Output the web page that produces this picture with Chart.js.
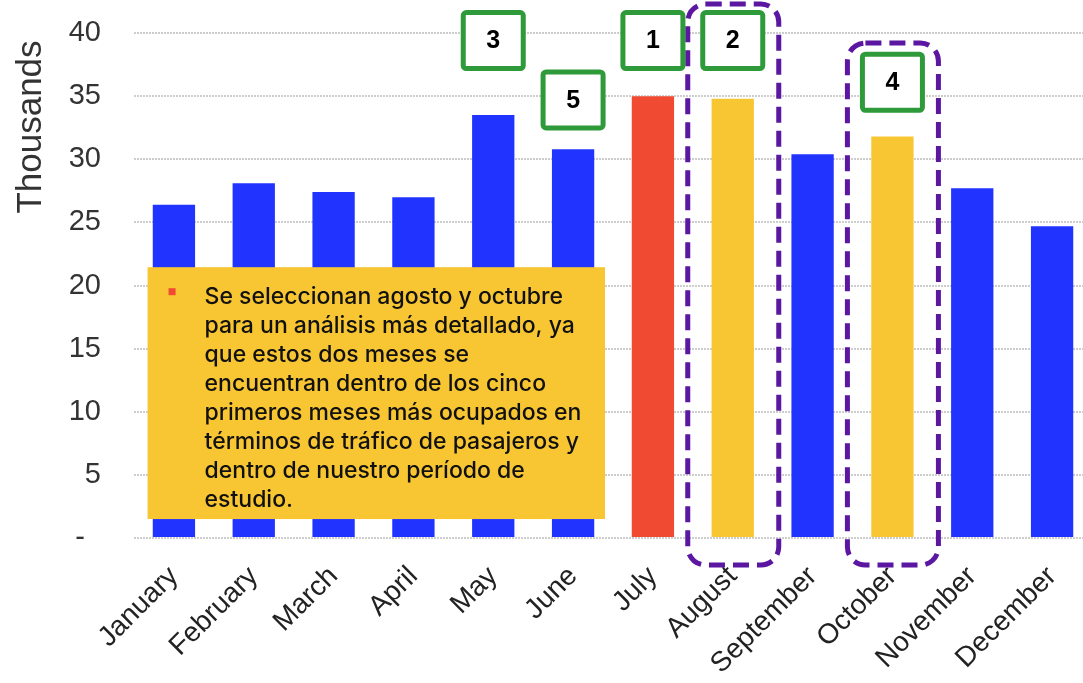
<!DOCTYPE html>
<html lang="es">
<head>
  <meta charset="UTF-8">
  <title>Pasajeros por mes</title>
  <script src="https://cdn.jsdelivr.net/npm/chart.js"></script>
  <style>
    html, body {
      margin: 0;
      padding: 0;
      background: #fff;
      overflow: hidden;
    }
    #wrap {
      width: 1092px;
      height: 683px;
    }
  </style>
</head>
<body>
  <div id="wrap">
    <canvas id="traffic" width="1092" height="683"></canvas>
  </div>

  <script>
    // Monthly passenger traffic (thousands)
    const months = ['January', 'February', 'March', 'April', 'May', 'June',
      'July', 'August', 'September', 'October', 'November', 'December'];
    const passengers = [26.4, 28.1, 27.4, 27.0, 33.5, 30.8, 35.0, 34.8, 30.4, 31.8, 27.7, 24.7];
    const yTickValues = [0, 5, 10, 15, 20, 25, 30, 35, 40];
    const yTickLabels = ['-  ', '5', '10', '15', '20', '25', '30', '35', '40'];

    // ranking of the busiest months, and the two chosen for study
    const topMonths = ['July', 'August', 'May', 'October', 'June'];
    const studyMonths = ['August', 'October'];

    const noteLines = [
      'Se seleccionan agosto y octubre',
      'para un análisis más detallado, ya',
      'que estos dos meses se',
      'encuentran dentro de los cinco',
      'primeros meses más ocupados en',
      'términos de tráfico de pasajeros y',
      'dentro de nuestro período de',
      'estudio.'
    ];

    const BLUE = '#2134FF';
    const RED = '#F14A33';
    const YELLOW = '#F8C632';
    const GREEN = '#2E9A39';
    const PURPLE = '#5B17A1';

    const barColors = months.map(m => {
      if (m === topMonths[0]) return RED;
      if (studyMonths.includes(m)) return YELLOW;
      return BLUE;
    });

    // where the rank badges sit (value units on the y axis)
    const badgeY = { July: 39.4, August: 39.4, May: 39.4, October: 36.1, June: 34.7 };

    function roundRect(ctx, x, y, w, h, r) {
      ctx.beginPath();
      ctx.moveTo(x + r, y);
      ctx.lineTo(x + w - r, y);
      ctx.arcTo(x + w, y, x + w, y + r, r);
      ctx.lineTo(x + w, y + h - r);
      ctx.arcTo(x + w, y + h, x + w - r, y + h, r);
      ctx.lineTo(x + r, y + h);
      ctx.arcTo(x, y + h, x, y + h - r, r);
      ctx.lineTo(x, y + r);
      ctx.arcTo(x, y, x + r, y, r);
      ctx.closePath();
    }

    const annotations = {
      id: 'annotations',
      afterDatasetsDraw(chart) {
        const { ctx } = chart;
        const x = chart.scales.x;
        const y = chart.scales.y;
        const step = x.getPixelForValue(1) - x.getPixelForValue(0);

        ctx.save();

        // yellow note over the first half of the year
        const nLeft = x.getPixelForValue(0) - step * 0.33;
        const nRight = x.getPixelForValue(5) + step * 0.4;
        const nTop = y.getPixelForValue(21.45);
        const nBottom = y.getPixelForValue(1.5);
        ctx.fillStyle = YELLOW;
        ctx.fillRect(nLeft, nTop, nRight - nLeft, nBottom - nTop);

        ctx.fillStyle = RED;
        ctx.fillRect(nLeft + 21, nTop + 21, 7, 7);

        ctx.fillStyle = '#111';
        ctx.font = '500 23px Inter';
        ctx.textBaseline = 'alphabetic';
        ctx.textAlign = 'left';
        noteLines.forEach((line, i) => {
          ctx.fillText(line, nLeft + 57, nTop + 37 + i * 29);
        });

        // dashed frames around the study months
        ctx.strokeStyle = PURPLE;
        ctx.lineWidth = 5;
        ctx.setLineDash([16, 8]);
        const frameTop = { August: 42.3, October: 39.2 };
        studyMonths.forEach(m => {
          const cx = x.getPixelForValue(months.indexOf(m));
          const top = y.getPixelForValue(frameTop[m]);
          const bottom = y.getPixelForValue(0) + 27;
          roundRect(ctx, cx - 45, top, 91, bottom - top, 18);
          ctx.stroke();
        });
        ctx.setLineDash([]);

        // rank badges
        topMonths.forEach((m, i) => {
          const cx = x.getPixelForValue(months.indexOf(m));
          const cy = y.getPixelForValue(badgeY[m]);
          roundRect(ctx, cx - 30, cy - 28, 60, 56, 3);
          ctx.fillStyle = '#fff';
          ctx.fill();
          ctx.strokeStyle = GREEN;
          ctx.lineWidth = 5;
          ctx.stroke();
          ctx.fillStyle = '#000';
          ctx.font = 'bold 25px "Liberation Sans"';
          ctx.textAlign = 'center';
          ctx.textBaseline = 'middle';
          ctx.fillText(String(i + 1), cx, cy + 1);
        });

        // axis title
        ctx.save();
        ctx.translate(31, 127);
        ctx.rotate(-Math.PI / 2);
        ctx.fillStyle = '#333';
        ctx.font = '35px "Liberation Sans"';
        ctx.textAlign = 'center';
        ctx.textBaseline = 'middle';
        ctx.fillText('Thousands', 0, 0);
        ctx.restore();

        ctx.restore();
      }
    };

    new Chart(document.getElementById('traffic'), {
      type: 'bar',
      data: {
        labels: months,
        datasets: [{
          data: passengers,
          backgroundColor: barColors,
          barPercentage: 0.53,
          categoryPercentage: 1.0
        }]
      },
      options: {
        responsive: false,
        animation: false,
        layout: { padding: { top: 33, right: 0, left: 0, bottom: 0 } },
        plugins: {
          legend: { display: false },
          tooltip: { enabled: false }
        },
        scales: {
          x: {
            grid: { display: false },
            border: { display: false },
            ticks: {
              color: '#222',
              font: { family: 'Liberation Sans', size: 28 },
              minRotation: 45,
              maxRotation: 45,
              padding: 14
            },
            afterFit(scale) { scale.height = 145; }
          },
          y: {
            min: 0,
            max: 40,
            afterBuildTicks(scale) {
              scale.ticks = yTickValues.map(v => ({ value: v }));
            },
            grid: {
              color: '#cdcdcd',
              lineWidth: 2,
              drawTicks: false
            },
            border: { display: false, dash: [2, 1] },
            ticks: {
              color: '#333',
              font: { family: 'Liberation Sans', size: 29 },
              padding: 33,
              callback: (v) => yTickLabels[yTickValues.indexOf(v)]
            },
            afterFit(scale) {
              scale.width = 134;
              scale.paddingTop = 0;
              scale.paddingBottom = 0;
            }
          }
        }
      },
      plugins: [annotations]
    });
  </script>
</body>
</html>
